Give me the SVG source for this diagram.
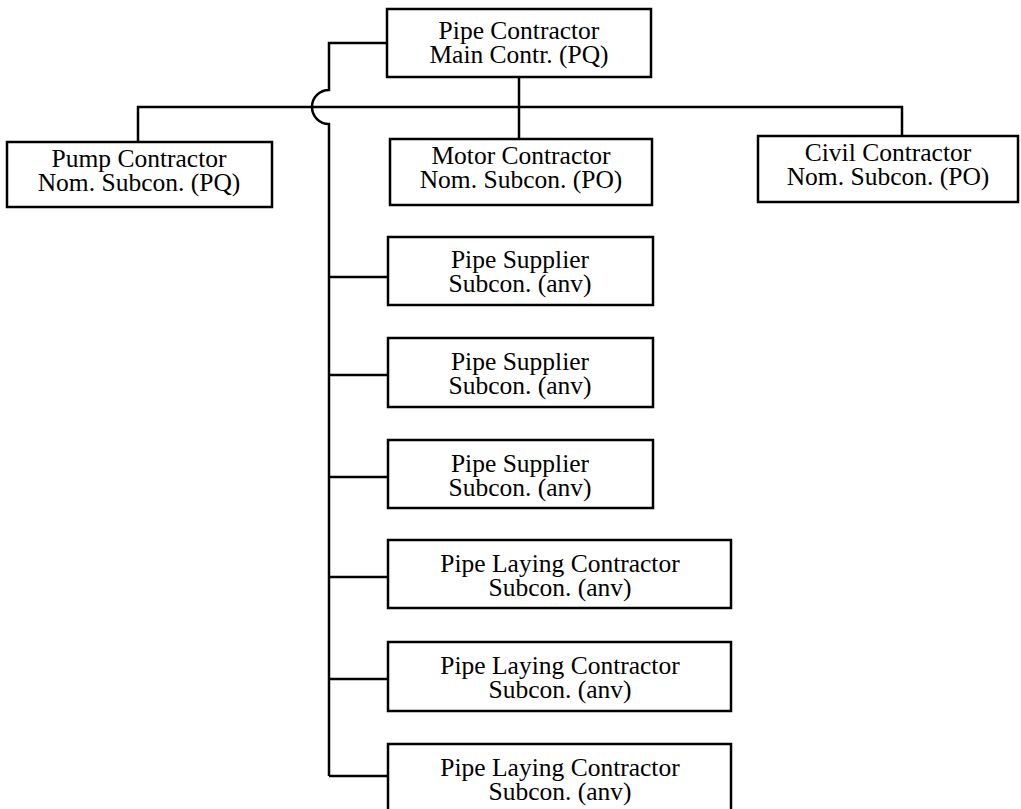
<svg xmlns="http://www.w3.org/2000/svg" width="1021" height="809" viewBox="0 0 1021 809">
  <style>
    .box { fill: #ffffff; stroke: #000000; stroke-width: 2.5; }
    .wire { fill: none; stroke: #000000; stroke-width: 2.5; }
    text { font-family: "Liberation Serif", "Times New Roman", serif; font-size: 25.5px; fill: #000000; text-anchor: middle; }
  </style>
  <rect width="1021" height="809" fill="#ffffff"/>

  <!-- connectors -->
  <g id="connectors">
    <!-- main contractor down to nominated subcontractor bus -->
    <path class="wire" d="M519,77 V139"/>
    <path class="wire" d="M138,142 V107 H902 V136"/>
    <!-- main contractor left to subcontractor trunk, hopping over the bus -->
    <path class="wire" d="M387,43 H329 V90 A17,17 0 0 0 329,124 V776"/>
    <!-- branches to subcontractors -->
    <path class="wire" d="M329,277 H388"/>
    <path class="wire" d="M329,375 H388"/>
    <path class="wire" d="M329,477 H388"/>
    <path class="wire" d="M329,577 H388"/>
    <path class="wire" d="M329,679 H388"/>
    <path class="wire" d="M329,776 H388"/>
  </g>

  <g id="pipe-contractor">
    <rect class="box" x="387" y="9" width="264" height="68"/>
    <text x="519" y="39">Pipe Contractor</text>
    <text x="519" y="63">Main Contr. (PQ)</text>
  </g>

  <g id="pump-contractor">
    <rect class="box" x="7" y="142" width="265" height="65"/>
    <text x="139" y="167">Pump Contractor</text>
    <text x="139" y="191">Nom. Subcon. (PQ)</text>
  </g>

  <g id="motor-contractor">
    <rect class="box" x="390" y="139" width="262" height="66"/>
    <text x="521" y="164">Motor Contractor</text>
    <text x="521" y="188">Nom. Subcon. (PO)</text>
  </g>

  <g id="civil-contractor">
    <rect class="box" x="758" y="136" width="260" height="66"/>
    <text x="888" y="161">Civil Contractor</text>
    <text x="888" y="185">Nom. Subcon. (PO)</text>
  </g>

  <g id="pipe-supplier-1">
    <rect class="box" x="388" y="237" width="265" height="68"/>
    <text x="520" y="268">Pipe Supplier</text>
    <text x="520" y="292">Subcon. (anv)</text>
  </g>

  <g id="pipe-supplier-2">
    <rect class="box" x="388" y="338" width="265" height="69"/>
    <text x="520" y="370">Pipe Supplier</text>
    <text x="520" y="394">Subcon. (anv)</text>
  </g>

  <g id="pipe-supplier-3">
    <rect class="box" x="388" y="440" width="265" height="68"/>
    <text x="520" y="472">Pipe Supplier</text>
    <text x="520" y="496">Subcon. (anv)</text>
  </g>

  <g id="pipe-laying-1">
    <rect class="box" x="388" y="540" width="343" height="68"/>
    <text x="560" y="572">Pipe Laying Contractor</text>
    <text x="560" y="596">Subcon. (anv)</text>
  </g>

  <g id="pipe-laying-2">
    <rect class="box" x="388" y="642" width="343" height="69"/>
    <text x="560" y="674">Pipe Laying Contractor</text>
    <text x="560" y="698">Subcon. (anv)</text>
  </g>

  <g id="pipe-laying-3">
    <rect class="box" x="388" y="744" width="343" height="70"/>
    <text x="560" y="776">Pipe Laying Contractor</text>
    <text x="560" y="800">Subcon. (anv)</text>
  </g>
</svg>
